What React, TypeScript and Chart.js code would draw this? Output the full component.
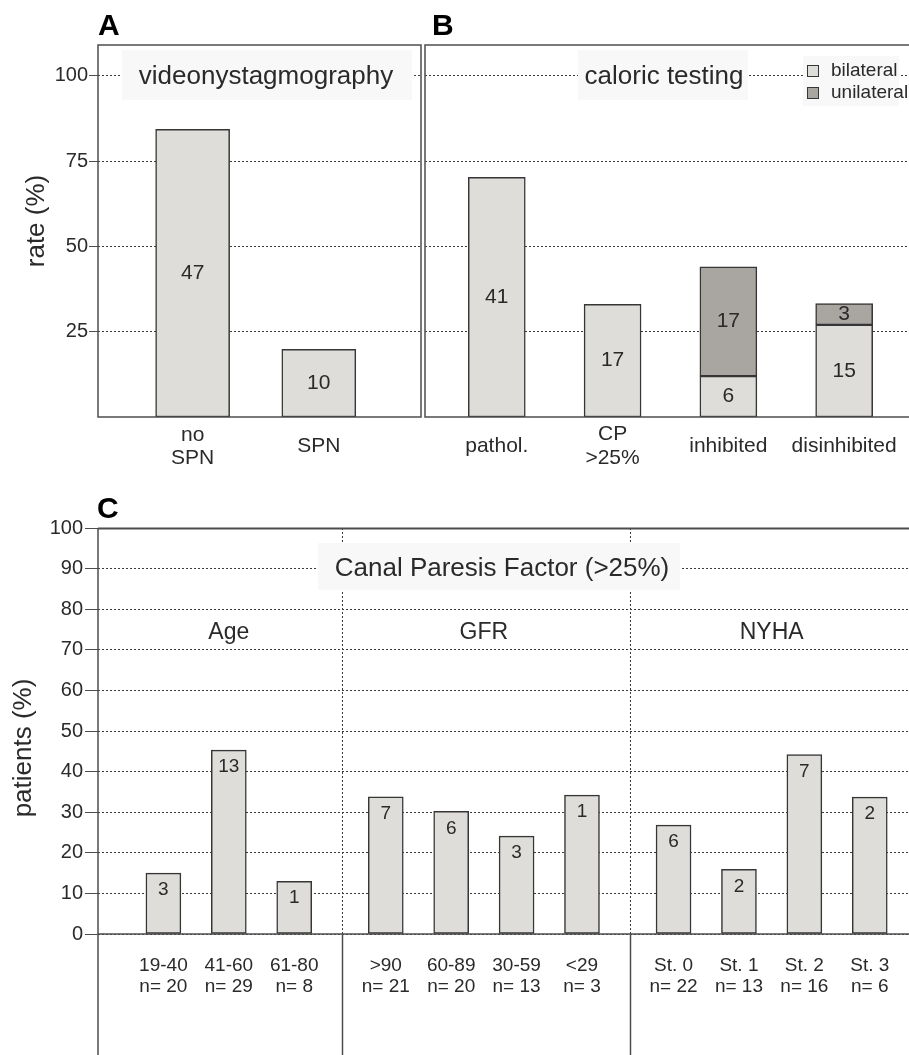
import React, { useEffect, useRef } from "react";
import { Chart, registerables } from "chart.js";

Chart.register(...registerables);

const FAMILY = "'Liberation Sans', Arial, Helvetica, sans-serif";
Chart.defaults.font.family = FAMILY;
Chart.defaults.color = "#2a2a2a";

// ---------------- data ----------------
// Panel A – videonystagmography
const A_CATEGORIES: string[][] = [["no", "SPN"], ["SPN"]];
const A_RATE = [84.3, 19.8];
const A_COUNT = [47, 10];

// Panel B – caloric testing
const B_CATEGORIES: string[][] = [["pathol."], ["CP", ">25%"], ["inhibited"], ["disinhibited"]];
const B_SERIES = ["bilateral", "unilateral"];
const B_BILATERAL_RATE = [70.2, 33.0, 12.0, 27.0];
const B_UNILATERAL_RATE = [null, null, 32.0, 6.2];
const B_BILATERAL_COUNT = [41, 17, 6, 15];
const B_UNILATERAL_COUNT = [null, null, 17, 3];

const AB_Y_TICKS = [25, 50, 75, 100];

// Panel C – canal paresis factor
const C_GROUPS = ["Age", "GFR", "NYHA"];
const C_GROUP_SIZES = [3, 4, 4];
const C_CATEGORIES = ["19-40", "41-60", "61-80", ">90", "60-89", "30-59", "<29", "St. 0", "St. 1", "St. 2", "St. 3"];
const C_N = [20, 29, 8, 21, 20, 13, 3, 22, 13, 16, 6];
const C_RATE = [15.0, 45.3, 13.0, 33.8, 30.2, 24.1, 34.2, 26.8, 15.9, 44.2, 33.7];
const C_COUNT = [3, 13, 1, 7, 6, 3, 1, 6, 2, 7, 2];
const C_Y_TICKS = [0, 10, 20, 30, 40, 50, 60, 70, 80, 90, 100];

const TITLE_A = "videonystagmography";
const TITLE_B = "caloric testing";
const TITLE_C = "Canal Paresis Factor (>25%)";
const Y_TITLE_AB = "rate (%)";
const Y_TITLE_C = "patients (%)";

// ---------------- styles ----------------
const INK = "#2a2a2a";
const FRAME = "#4d4d4d";
const GRID = "#3a3a3a";
const LIGHT = "#dfddd9";
const DARK = "#a9a5a1";
const EDGE = "#363636";
const BOX = "#f8f8f8";

function put(ctx: any, str: string, x: number, y: number, size: number, align = "center", weight = "normal", baseline = "middle", color = INK) {
  ctx.font = `${weight} ${size}px ${FAMILY}`;
  ctx.fillStyle = color;
  ctx.textAlign = align;
  ctx.textBaseline = baseline;
  ctx.fillText(str, x, y);
}

function putRotated(ctx: any, str: string, x: number, y: number, size: number) {
  ctx.save();
  ctx.translate(x, y);
  ctx.rotate(-Math.PI / 2);
  put(ctx, str, 0, 0, size);
  ctx.restore();
}

function line(ctx: any, x1: number, y1: number, x2: number, y2: number, color: string, width: number, dash: number[] = []) {
  ctx.save();
  ctx.strokeStyle = color;
  ctx.lineWidth = width;
  ctx.setLineDash(dash);
  ctx.beginPath();
  ctx.moveTo(x1, y1);
  ctx.lineTo(x2, y2);
  ctx.stroke();
  ctx.restore();
}

function countLabels(chart: any, counts: (number | null)[][], size: number, mode: "mid" | "top") {
  const ctx = chart.ctx;
  counts.forEach((arr, di) => {
    const meta = chart.getDatasetMeta(di);
    meta.data.forEach((el: any, i: number) => {
      const n = arr[i];
      if (n === null || n === undefined) return;
      const p = el.getProps(["x", "y", "base"], true);
      const y = mode === "mid" ? (p.y + p.base) / 2 : p.y + 17;
      put(ctx, String(n), p.x, y, size);
    });
  });
}

const fixHeight = (h: number) => (s: any) => {
  s.height = h;
  s.paddingLeft = 0;
  s.paddingRight = 0;
};

const baseOptions = {
  responsive: false,
  animation: false,
  devicePixelRatio: 1,
  events: [],
  plugins: { legend: { display: false }, tooltip: { enabled: false } },
};

// ---------------- panel A ----------------
function configA(): any {
  const pos = A_CATEGORIES.map((_, i) => i + 1);
  const plugin = {
    id: "panelA",
    afterDraw(chart: any) {
      const { ctx, chartArea: ca } = chart;
      ctx.save();
      ctx.fillStyle = BOX;
      ctx.fillRect(122, 50, 290, 50);
      put(ctx, TITLE_A, 266, 77, 26);
      countLabels(chart, [A_COUNT], 21, "mid");
      ctx.strokeStyle = FRAME;
      ctx.lineWidth = 1.5;
      ctx.strokeRect(ca.left, ca.top, ca.right - ca.left, ca.bottom - ca.top);
      putRotated(ctx, Y_TITLE_AB, 37, 221, 26);
      put(ctx, "A", 98, 35, 30, "left", "bold", "alphabetic", "#000");
      ctx.restore();
    },
  };
  return {
    type: "bar",
    data: {
      datasets: [
        {
          data: pos.map((x, i) => ({ x, y: A_RATE[i] })),
          backgroundColor: LIGHT,
          borderColor: EDGE,
          borderWidth: 1.5,
          borderSkipped: false,
          barThickness: 74,
        },
      ],
    },
    options: {
      ...baseOptions,
      layout: { padding: { top: 45, right: 2, left: 0, bottom: 0 } },
      scales: {
        x: {
          type: "linear",
          min: 0.25,
          max: 2.81,
          offset: false,
          grid: { display: false, drawTicks: false, offset: false },
          border: { display: false },
          afterBuildTicks: (s: any) => { s.ticks = pos.map((v) => ({ value: v })); },
          afterFit: fixHeight(68),
          ticks: {
            autoSkip: false, maxRotation: 0, minRotation: 0, padding: 18, crossAlign: "center",
            color: INK, font: { size: 21, lineHeight: 1.1 },
            callback: (_v: any, i: number) => A_CATEGORIES[i],
          },
        },
        y: {
          type: "linear",
          min: 0,
          max: 109,
          grid: { color: GRID, lineWidth: 1, tickLength: 9, tickColor: FRAME, drawTicks: true },
          border: { display: false, dash: [2, 2] },
          afterBuildTicks: (s: any) => { s.ticks = AB_Y_TICKS.map((v) => ({ value: v })); },
          afterFit: (s: any) => { s.width = 98; },
          ticks: { padding: 1, color: INK, font: { size: 20 } },
        },
      },
    },
    plugins: [plugin],
  };
}

// ---------------- panel B ----------------
function configB(): any {
  const pos = B_CATEGORIES.map((_, i) => i + 1);
  const plugin = {
    id: "panelB",
    afterDraw(chart: any) {
      const { ctx, chartArea: ca } = chart;
      ctx.save();
      ctx.fillStyle = BOX;
      ctx.fillRect(155, 50, 170, 50);
      put(ctx, TITLE_B, 241, 77, 26);
      // legend
      ctx.fillStyle = BOX;
      ctx.fillRect(380, 56, 96, 50);
      [LIGHT, DARK].forEach((c, i) => {
        const y = 65 + i * 22;
        ctx.fillStyle = c;
        ctx.fillRect(384, y, 12, 12);
        ctx.strokeStyle = EDGE;
        ctx.lineWidth = 1;
        ctx.strokeRect(384.5, y + 0.5, 11, 11);
        put(ctx, B_SERIES[i], 408, y + 6, 19, "left");
      });
      countLabels(chart, [B_BILATERAL_COUNT, B_UNILATERAL_COUNT], 21, "mid");
      ctx.strokeStyle = FRAME;
      ctx.lineWidth = 1.5;
      ctx.beginPath();
      ctx.moveTo(ca.right, ca.top);
      ctx.lineTo(ca.left, ca.top);
      ctx.lineTo(ca.left, ca.bottom);
      ctx.lineTo(ca.right, ca.bottom);
      ctx.stroke();
      put(ctx, "B", 9, 35, 30, "left", "bold", "alphabetic", "#000");
      ctx.restore();
    },
  };
  const common = { borderColor: EDGE, borderWidth: 1.5, borderSkipped: false, barThickness: 57 };
  return {
    type: "bar",
    data: {
      datasets: [
        { label: B_SERIES[0], data: pos.map((x, i) => ({ x, y: B_BILATERAL_RATE[i] })), backgroundColor: LIGHT, ...common },
        { label: B_SERIES[1], data: pos.map((x, i) => ({ x, y: B_UNILATERAL_RATE[i] })), backgroundColor: DARK, ...common },
      ],
    },
    options: {
      ...baseOptions,
      layout: { padding: { top: 45, right: 0, left: 0, bottom: 0 } },
      scales: {
        x: {
          type: "linear",
          stacked: true,
          min: 0.38,
          max: 4.56,
          offset: false,
          grid: { display: false, drawTicks: false, offset: false },
          border: { display: false },
          afterBuildTicks: (s: any) => { s.ticks = pos.map((v) => ({ value: v })); },
          afterFit: fixHeight(68),
          ticks: {
            autoSkip: false, maxRotation: 0, minRotation: 0, padding: 17, crossAlign: "center",
            color: INK, font: { size: 21, lineHeight: 1.15 },
            callback: (_v: any, i: number) => B_CATEGORIES[i],
          },
        },
        y: {
          type: "linear",
          stacked: true,
          min: 0,
          max: 109,
          grid: { color: GRID, lineWidth: 1, drawTicks: false },
          border: { display: false, dash: [2, 2] },
          afterBuildTicks: (s: any) => { s.ticks = AB_Y_TICKS.map((v) => ({ value: v })); },
          afterFit: (s: any) => { s.width = 2; },
          ticks: { display: false },
        },
      },
    },
    plugins: [plugin],
  };
}

// ---------------- panel C ----------------
function configC(): any {
  const GAP = 0.4;
  const pos: number[] = [];
  const groupOf: number[] = [];
  let k = 0;
  C_GROUP_SIZES.forEach((n, g) => {
    for (let j = 0; j < n; j++) {
      pos.push(k + g * GAP);
      groupOf.push(g);
      k++;
    }
  });
  const H = 565;
  const separators = (xs: any) => {
    const out: number[] = [];
    for (let i = 1; i < pos.length; i++) {
      if (groupOf[i] !== groupOf[i - 1]) out.push((xs.getPixelForValue(pos[i]) + xs.getPixelForValue(pos[i - 1])) / 2 + 2);
    }
    return out;
  };
  const plugin = {
    id: "panelC",
    beforeDatasetsDraw(chart: any) {
      const { ctx, chartArea: ca, scales } = chart;
      separators(scales.x).forEach((x) => {
        const xx = Math.round(x) + 0.5;
        line(ctx, xx, ca.top, xx, ca.bottom, GRID, 1, [2, 2]);
        line(ctx, xx, ca.bottom, xx, H, FRAME, 1.5);
      });
      line(ctx, ca.left, ca.bottom, ca.right, ca.bottom, FRAME, 1.5);
    },
    afterDraw(chart: any) {
      const { ctx, chartArea: ca, scales } = chart;
      ctx.save();
      countLabels(chart, [C_COUNT], 19, "top");
      // group headers
      let start = 0;
      C_GROUP_SIZES.forEach((n, g) => {
        const x = (scales.x.getPixelForValue(pos[start]) + scales.x.getPixelForValue(pos[start + n - 1])) / 2;
        put(ctx, C_GROUPS[g], x, 143, 23);
        start += n;
      });
      ctx.fillStyle = BOX;
      ctx.fillRect(318, 53, 362, 47);
      put(ctx, TITLE_C, 502, 79, 26);
      // frame
      line(ctx, ca.left, ca.top + 0.5, ca.right, ca.top + 0.5, FRAME, 2);
      line(ctx, ca.left, ca.top, ca.left, H, FRAME, 1.5);
      putRotated(ctx, Y_TITLE_C, 24, 258, 26);
      put(ctx, "C", 97, 28, 30, "left", "bold", "alphabetic", "#000");
      ctx.restore();
    },
  };
  return {
    type: "bar",
    data: {
      datasets: [
        {
          data: pos.map((x, i) => ({ x, y: C_RATE[i] })),
          backgroundColor: LIGHT,
          borderColor: EDGE,
          borderWidth: 1.5,
          borderSkipped: false,
          barThickness: 35,
        },
      ],
    },
    options: {
      ...baseOptions,
      layout: { padding: { top: 38, right: 0, left: 0, bottom: 0 } },
      scales: {
        x: {
          type: "linear",
          min: -1,
          max: 11.4,
          offset: false,
          grid: { display: false, drawTicks: false, offset: false },
          border: { display: false },
          afterBuildTicks: (s: any) => { s.ticks = pos.map((v) => ({ value: v })); },
          afterFit: fixHeight(H - 444),
          ticks: {
            autoSkip: false, maxRotation: 0, minRotation: 0, padding: 21, crossAlign: "near",
            color: INK, font: { size: 19, lineHeight: 1.1 },
            callback: (_v: any, i: number) => [C_CATEGORIES[i], "n= " + C_N[i]],
          },
        },
        y: {
          type: "linear",
          min: 0,
          max: 100,
          grid: { color: GRID, lineWidth: 1, tickLength: 13, tickColor: FRAME, drawTicks: true },
          border: { display: false, dash: [2, 2] },
          afterBuildTicks: (s: any) => { s.ticks = C_Y_TICKS.map((v) => ({ value: v })); },
          afterFit: (s: any) => { s.width = 98; },
          ticks: { padding: 2, color: INK, font: { size: 20 } },
        },
      },
    },
    plugins: [plugin],
  };
}

function Panel({ make, left, top, width, height }: any) {
  const ref = useRef<HTMLCanvasElement>(null);
  useEffect(() => {
    const chart = new Chart(ref.current as HTMLCanvasElement, make());
    return () => chart.destroy();
  }, [make]);
  return (
    <canvas
      ref={ref}
      width={width}
      height={height}
      style={{ position: "absolute", left, top, width, height, display: "block" }}
    />
  );
}

export default function App() {
  return (
    <div style={{ position: "absolute", left: 0, top: 0, width: 909, height: 1055, background: "#fff", overflow: "hidden" }}>
      <Panel make={configA} left={0} top={0} width={423} height={485} />
      <Panel make={configB} left={423} top={0} width={486} height={485} />
      <Panel make={configC} left={0} top={490} width={909} height={565} />
    </div>
  );
}
